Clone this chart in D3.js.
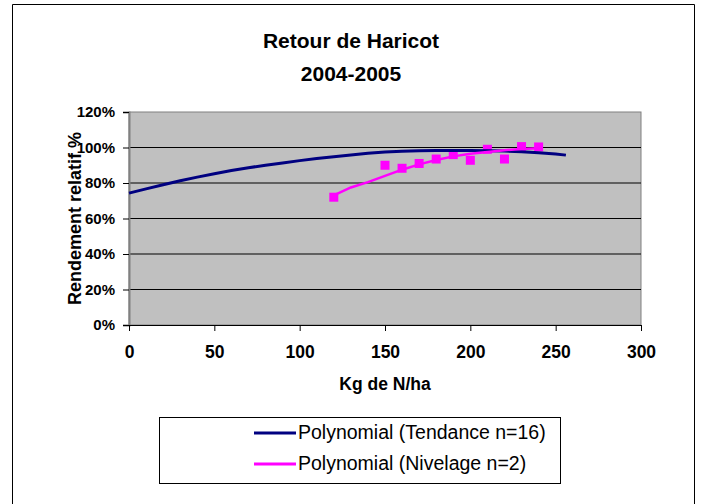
<!DOCTYPE html>
<html>
<head>
<meta charset="utf-8">
<script src="https://cdn.jsdelivr.net/npm/d3@7"></script>
<style>
  body { margin: 0; background: #fff; }
  svg { display: block; font-family: "Liberation Sans", Arial, sans-serif; }
</style>
</head>
<body>
<svg id="chart" width="703" height="504"></svg>
<script>
// trend line (Tendance n=16)
let trendX = [0, 10, 20, 30, 40, 50, 60, 70, 80, 90, 100, 110, 120, 130, 140, 150, 160, 170, 180, 190, 200, 210, 220, 230, 240, 250, 256];
let trendY = [74.3, 76.7, 79, 81.3, 83.3, 85.2, 87, 88.6, 90, 91.3, 92.6, 93.8, 94.8, 95.8, 96.7, 97.4, 97.9, 98.2, 98.3, 98.3, 98.3, 98.2, 98, 97.6, 97, 96.4, 95.7];

// observed points (Nivelage)
let pointX = [120, 150, 160, 170, 180, 190, 200, 210, 220, 230, 240];
let pointY = [72, 90, 88.3, 91, 93.5, 96, 92.8, 99, 93.5, 100.5, 100.3];

// Nivelage polynomial line
let nivX = [120, 130, 140, 150, 160, 170, 180, 190, 200, 210, 220, 230, 240];
let nivY = [73, 77.5, 80.5, 84, 87.5, 90.5, 93, 95, 96.5, 97.5, 98.5, 99.2, 99.6];

let xTicks = [0, 50, 100, 150, 200, 250, 300];
let yTicks = [0, 20, 40, 60, 80, 100, 120];
let legendLabels = ['Polynomial (Tendance n=16)', 'Polynomial (Nivelage n=2)'];
let colors = ['#000080', '#FF00FF'];

let svg = d3.select('#chart');
let plotLeft = 129, plotRight = 641, plotTop = 112, plotBottom = 325;

let x = d3.scaleLinear().domain([0, 300]).range([plotLeft, plotRight]);
let y = d3.scaleLinear().domain([0, 120]).range([plotBottom, plotTop]);

// outer frame
svg.append('path')
    .attr('d', 'M12.5,504 V4.5 H694.5 V504')
    .attr('fill', 'none')
    .attr('stroke', '#000')
    .attr('stroke-width', 1);

// title
svg.append('text').attr('x', 351).attr('y', 48).attr('text-anchor', 'middle')
    .style('font-size', '21px').style('font-weight', 'bold').text('Retour de Haricot');
svg.append('text').attr('x', 351).attr('y', 81).attr('text-anchor', 'middle')
    .style('font-size', '21px').style('font-weight', 'bold').text('2004-2005');

// plot area
svg.append('rect')
    .attr('x', plotLeft).attr('y', plotTop)
    .attr('width', plotRight - plotLeft).attr('height', plotBottom - plotTop)
    .attr('fill', '#C0C0C0')
    .attr('stroke', '#808080')
    .attr('stroke-width', 1);

// gridlines
svg.append('g').selectAll('line')
    .data(yTicks.filter(d => d > 0 && d < 120))
    .enter().append('line')
    .attr('x1', plotLeft).attr('x2', plotRight)
    .attr('y1', d => y(d)).attr('y2', d => y(d))
    .attr('stroke', '#000').attr('stroke-width', 1);

// y axis
let yAxis = svg.append('g')
    .attr('transform', `translate(${plotLeft},0)`)
    .call(d3.axisLeft(y).tickValues(yTicks).tickFormat(d => d + '%').tickSize(6).tickPadding(8));
yAxis.select('.domain').attr('stroke', '#808080').attr('stroke-width', 2);
yAxis.selectAll('text').style('font-size', '15px').style('font-weight', 'bold').attr('fill', '#000');

// x axis
let xAxis = svg.append('g')
    .attr('transform', `translate(0,${plotBottom})`)
    .call(d3.axisBottom(x).tickValues(xTicks).tickSize(6).tickPadding(15));
xAxis.select('.domain').attr('stroke', '#000');
xAxis.selectAll('text').style('font-size', '17.5px').style('font-weight', 'bold').attr('fill', '#000');

// axis titles
svg.append('text').attr('x', 385).attr('y', 390).attr('text-anchor', 'middle')
    .style('font-size', '17.5px').style('font-weight', 'bold').text('Kg de N/ha');
svg.append('text')
    .attr('transform', `translate(81,${(plotTop + plotBottom) / 2}) rotate(-90)`)
    .attr('text-anchor', 'middle')
    .style('font-size', '18px').style('font-weight', 'bold').text('Rendement relatif %');

let line = d3.line().x(d => x(d[0])).y(d => y(d[1]));

// Nivelage points
svg.append('g').selectAll('rect')
    .data(d3.zip(pointX, pointY))
    .enter().append('rect')
    .attr('x', d => x(d[0]) - 4.5)
    .attr('y', d => y(d[1]) - 4.5)
    .attr('width', 9).attr('height', 9)
    .attr('fill', colors[1]);

// trend lines
svg.append('path')
    .datum(d3.zip(trendX, trendY))
    .attr('d', line)
    .attr('fill', 'none')
    .attr('stroke', colors[0])
    .attr('stroke-width', 3);

svg.append('path')
    .datum(d3.zip(nivX, nivY))
    .attr('d', line)
    .attr('fill', 'none')
    .attr('stroke', colors[1])
    .attr('stroke-width', 2.5);

// legend
svg.append('rect')
    .attr('x', 159.5).attr('y', 417.5)
    .attr('width', 401).attr('height', 66)
    .attr('fill', '#fff').attr('stroke', '#000');

let leg = svg.append('g').selectAll('g')
    .data(legendLabels)
    .enter().append('g')
    .attr('transform', (d, i) => `translate(0,${433 + i * 31})`);
leg.append('line')
    .attr('x1', 254).attr('x2', 296)
    .attr('stroke', (d, i) => colors[i]).attr('stroke-width', 3);
leg.append('text')
    .attr('x', 298).attr('y', 6)
    .style('font-size', '19.5px')
    .text(d => d);
</script>
</body>
</html>
